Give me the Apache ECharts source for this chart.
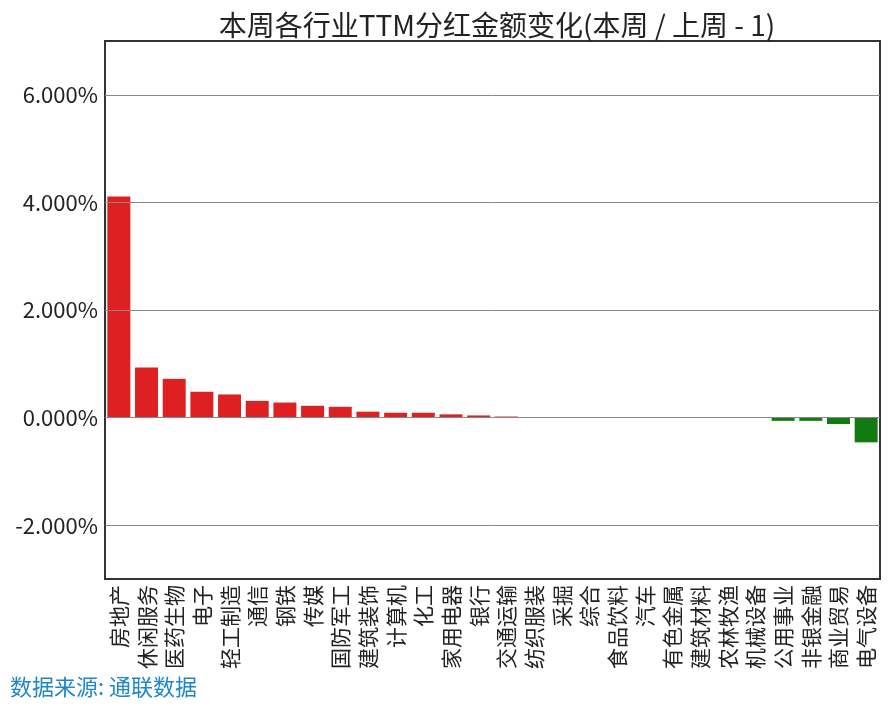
<!DOCTYPE html>
<html><head><meta charset="utf-8">
<script src="https://cdn.jsdelivr.net/npm/echarts@6/dist/echarts.min.js"></script>
<style>html,body{margin:0;padding:0;background:#fff}#c{width:890px;height:711px}</style>
</head><body><div id="c"></div>
<script>
var categories = ['房地产','休闲服务','医药生物','电子','轻工制造','通信','钢铁','传媒','国防军工','建筑装饰','计算机','化工','家用电器','银行','交通运输','纺织服装','采掘','综合','食品饮料','汽车','有色金属','建筑材料','农林牧渔','机械设备','公用事业','非银金融','商业贸易','电气设备'];
var values = [4.11,0.93,0.72,0.48,0.43,0.31,0.28,0.22,0.20,0.11,0.09,0.09,0.06,0.04,0.02,0,0,0,0,0,0,0,0,0,-0.06,-0.06,-0.12,-0.46];
var gridValues = [-2,0,2,4,6];
var font = '"Noto Sans CJK SC","Noto Sans",sans-serif';
var chart = echarts.init(document.getElementById('c'));
chart.setOption({
  animation:false,
  title:{text:'本周各行业TTM分红金额变化(本周 / 上周 - 1)',left:492,top:6,textAlign:'center',
    textStyle:{fontFamily:font,fontSize:28,fontWeight:'normal',color:'#222'}},
  grid:{left:105,right:10,top:41,bottom:132,show:true,borderColor:'#333',borderWidth:2,backgroundColor:'transparent'},
  xAxis:{type:'category',data:categories,axisLine:{show:false},axisTick:{show:false},
    axisLabel:{rotate:90,interval:0,fontFamily:font,fontSize:21,color:'#222',margin:6}},
  yAxis:{type:'value',min:-3,max:7,interval:1,axisLine:{show:false},axisTick:{show:false},splitLine:{show:false},
    axisLabel:{fontFamily:font,fontSize:22,color:'#222',margin:7,
      formatter:function(v){return (Math.round(v)%2===0)?v.toFixed(3)+'%':'';}}},
  graphic:[{type:'text',left:10,top:676,style:{text:'数据来源: 通联数据',fontFamily:font,fontSize:22,fill:'#1f87c9'}}],
  series:[{type:'bar',data:values.map(function(v){return {value:v,itemStyle:{color:v>=0?'#de2020':'#117a11'}};}),
    barCategoryGap:'17%',
    markLine:{silent:true,symbol:['none','none'],label:{show:false},
      lineStyle:{color:'#888',width:1,type:'solid'},
      data:gridValues.map(function(g){return {yAxis:g};})}}]
});
</script></body></html>
